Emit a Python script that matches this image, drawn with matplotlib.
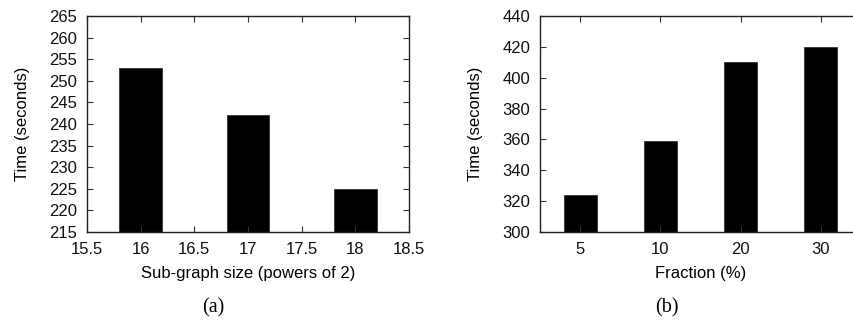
import matplotlib

matplotlib.use("Agg")
import matplotlib.pyplot as plt

# (a) sub-graph size vs time
sizes = [16, 17, 18]
times_a = [253, 242, 225]
xticks_a = [15.5, 16, 16.5, 17, 17.5, 18, 18.5]
yticks_a = [215, 220, 225, 230, 235, 240, 245, 250, 255, 260, 265]

# (b) fraction vs time
fractions = ["5", "10", "20", "30"]
times_b = [324, 359, 410, 420]
yticks_b = [300, 320, 340, 360, 380, 400, 420, 440]

plt.rcParams["font.family"] = ["Liberation Sans", "DejaVu Sans"]
plt.rcParams["font.size"] = 12

fig = plt.figure(figsize=(8.54, 3.2), dpi=100)
ax_a = fig.add_axes([87 / 854, 88 / 320, 322 / 854, 216 / 320])
ax_b = fig.add_axes([540 / 854, 88 / 320, 321 / 854, 216 / 320])

ax_a.bar(sizes, times_a, width=0.4, color="black", edgecolor="#333333", linewidth=0.6)
ax_a.set_xlim(15.5, 18.5)
ax_a.set_ylim(215, 265)
ax_a.set_xticks(xticks_a)
ax_a.set_xticklabels([f"{t:g}" for t in xticks_a])
ax_a.set_yticks(yticks_a)
ax_a.set_xlabel("Sub-graph size (powers of 2)", labelpad=7)
ax_a.set_ylabel("Time (seconds)", labelpad=14)

pos = range(len(fractions))
ax_b.bar(pos, times_b, width=0.41, color="black", edgecolor="#333333", linewidth=0.6)
ax_b.set_xlim(-0.5, 3.5)
ax_b.set_ylim(300, 440)
ax_b.set_xticks(list(pos))
ax_b.set_xticklabels(fractions)
ax_b.set_yticks(yticks_b)
ax_b.set_xlabel("Fraction (%)", labelpad=7)
ax_b.set_ylabel("Time (seconds)", labelpad=14)

for ax in (ax_a, ax_b):
    ax.tick_params(direction="in", top=True, right=True, length=4, width=0.8,
                   color="#333333", labelcolor="#111111")
    ax.tick_params(axis="x", pad=7)
    ax.tick_params(axis="y", pad=7)
    for spine in ax.spines.values():
        spine.set_linewidth(1.0)
        spine.set_color("#222222")

fig.text(213 / 854, 1 - 308 / 320, "(a)", ha="center", va="center",
         family=["Liberation Serif"], fontsize=14.5)
fig.text(667 / 854, 1 - 308 / 320, "(b)", ha="center", va="center",
         family=["Liberation Serif"], fontsize=14.5)

fig.savefig("out.png", dpi=100)
